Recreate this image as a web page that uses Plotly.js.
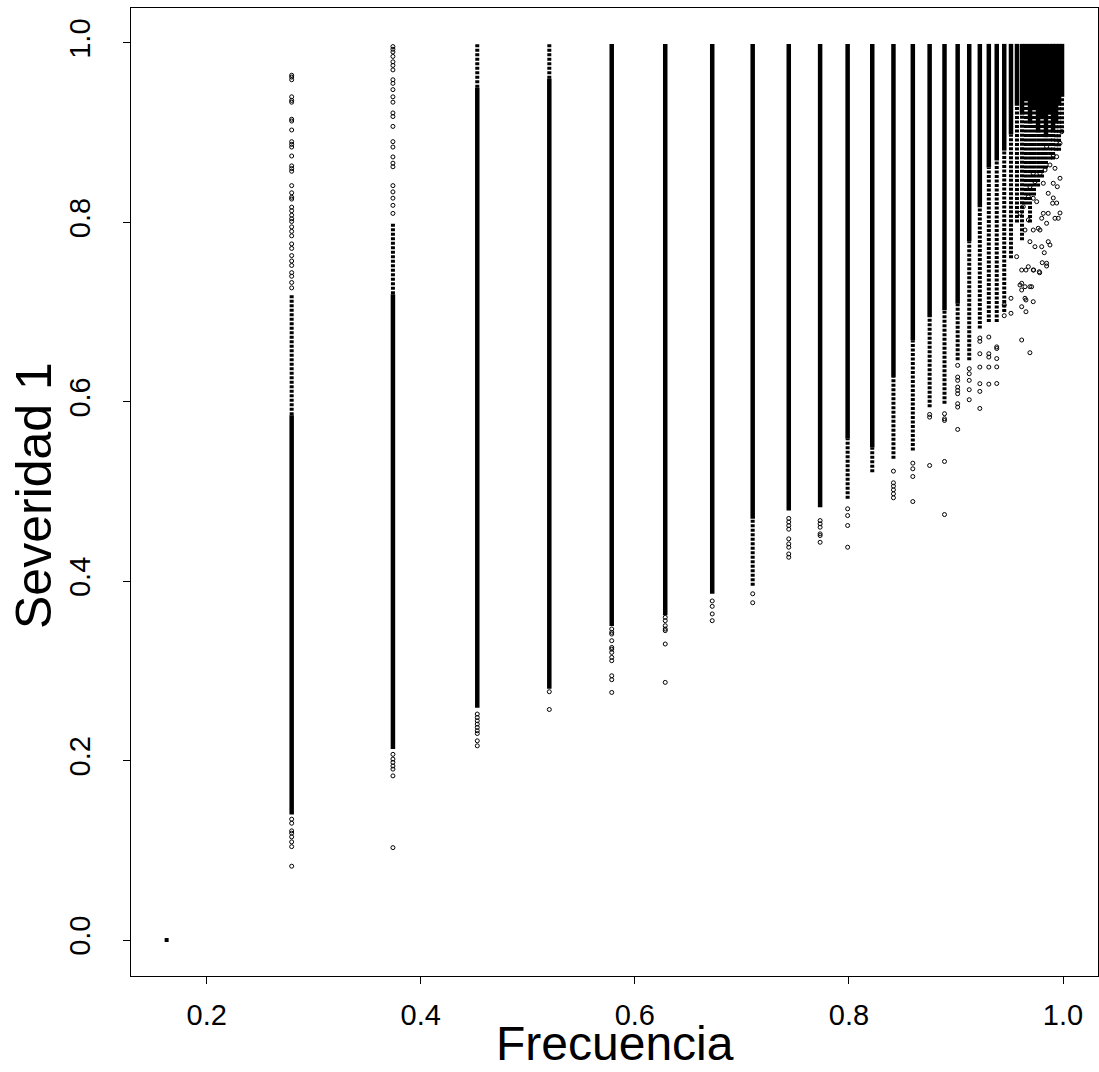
<!DOCTYPE html>
<html>
<head>
<meta charset="utf-8">
<script src="https://cdn.plot.ly/plotly-3.0.1.min.js"></script>
<style>html,body{margin:0;padding:0;background:#fff;}</style>
</head>
<body>
<div id="chart" style="width:1099px;height:1072px;"></div>
<script>
// ---- Data ----
// x positions of the vertical columns (Frecuencia)
const colX = [0.2794,0.3740,0.4528,0.5201,0.5784,0.6284,0.6723,0.7101,0.7438,0.7731,0.7988,0.8218,0.8416,0.8597,0.8754,0.8893,0.9016,0.9124,0.9223,0.9307,0.9381,0.9451,0.9514,
              0.9570,0.9617,0.9654,0.9692,0.9729,0.9767,0.9804,0.9841,0.9879,0.9907,0.9935,0.9963,0.9991];
// solid (densely packed) part of each column
const denseLo = [0.140,0.213,0.259,0.280,0.350,0.362,0.386,0.4695,0.4788,0.4825,0.5588,0.5494,0.6276,0.6685,0.6945,0.702,0.7094,0.779,0.817,0.861,0.869,0.880,0.898,
                 0.930,0.920,0.935,0.910,0.925,0.900,0.915,0.895,0.920,0.900,0.910,0.930,0.940];
const denseHi = [0.585,0.720,0.950,0.960,0.999,0.999,0.999,0.999,0.999,0.999,0.999,0.999,0.999,0.999,0.999,0.999,0.999,0.999,0.999,0.999,0.999,0.999,0.999,
                 0.999,0.999,0.999,0.999,0.999,0.999,0.999,0.999,0.999,0.999,0.999,0.999,0.999];
// loosely packed (dotted-looking) part of each column
const semiLo = [0.585,0.720,0.950,0.960,null,null,null,0.395,null,null,0.4918,0.5215,0.5365,0.5458,0.594,0.5979,0.6462,0.6462,0.6816,0.689,0.689,0.700,0.760,
                0.800,0.780,0.820,0.800,0.830,0.840,0.850,0.860,0.870,0.870,0.880,0.880,0.900];
const semiHi = [0.720,0.800,0.999,0.999,null,null,null,0.4695,null,null,0.5588,0.5494,0.6276,0.6685,0.6945,0.702,0.7094,0.779,0.817,0.861,0.869,0.880,0.898,
                0.930,0.920,0.935,0.910,0.925,0.900,0.915,0.895,0.920,0.900,0.910,0.930,0.940];
// isolated points of each column (Severidad 1 values)
const extraY = [
  [0.964,0.962,0.959,0.940,0.936,0.934,0.915,0.913,0.903,0.890,0.887,0.884,0.874,0.863,0.860,0.857,0.841,0.833,0.828,0.826,0.817,0.813,0.808,0.804,0.801,0.795,0.790,0.785,0.776,0.771,0.763,0.757,0.752,0.744,0.740,0.733,0.727,
   0.1347,0.1302,0.1217,0.1191,0.1150,0.1094,0.1041,0.0823],
  [0.996,0.993,0.990,0.985,0.979,0.975,0.970,0.959,0.955,0.948,0.940,0.934,0.922,0.918,0.907,0.890,0.884,0.873,0.866,0.862,0.841,0.834,0.827,0.819,0.810,
   0.207,0.2017,0.198,0.194,0.1905,0.183,0.103],
  [0.2519,0.2481,0.2444,0.2407,0.2370,0.2333,0.2302,0.2221,0.2165],
  [0.2768,0.257],
  [0.3467,0.3430,0.3411,0.3337,0.3262,0.3243,0.3206,0.3151,0.3114,0.2946,0.2902,0.2760],
  [0.3597,0.3560,0.3504,0.3467,0.3449,0.3300,0.2872],
  [0.378,0.372,0.3635,0.356],
  [0.386,0.376],
  [0.470,0.466,0.462,0.458,0.4472,0.4416,0.4379,0.4304,0.4267],
  [0.4676,0.4640,0.4602,0.4528,0.4509,0.4434],
  [0.4807,0.4732,0.4621,0.4379],
  [],
  [0.5227,0.5097,0.5059,0.5019,0.4974,0.4930],
  [0.5316,0.5253,0.5167,0.4888],
  [0.5859,0.5829,0.529],
  [0.5867,0.5811,0.5792,0.5335,0.4743],
  [0.6406,0.6276,0.6239,0.6164,0.6127,0.6090,0.5979,0.5941,0.5692],
  [0.6369,0.6313,0.6239,0.6135,0.6023],
  [0.6711,0.6674,0.6536,0.6387,0.6202,0.6116,0.5926],
  [0.6722,0.6536,0.6499,0.6387,0.6197],
  [0.6612,0.6594,0.6482,0.6389,0.6204],
  [0.708,0.696],
  [0.7154,0.6987],
  [],[],[],[],[],[],[],[],[],[],[],[],[]
];
// scattered points of the cloud near Frecuencia = 1
const cloudX = [0.9614,0.9654,0.9722,0.9614,0.9691,0.9567,0.9614,0.9614,0.9654,0.9691,0.9654,0.9614,0.9726,0.9782,0.9806,0.9847,0.9825,
  0.9862,0.9878,0.9801,0.9785,0.9738,0.9691,0.9847,0.9778,0.9722,0.9676,0.9598,0.9645,0.9707,0.9645,
  0.9972,0.9941,0.9909,0.9903,0.9862,0.9956,0.9925,0.9816,0.9847,0.9801,0.9754,0.9722,0.9769,0.9722,0.9676,0.9629,0.9598,0.9645,
  0.9988,0.9972,0.9909,0.9941,0.9847,0.9925,0.9972,0.9878,0.9832,0.9785,0.9816,0.9909,0.9947,0.9738,0.9722,0.9691,0.9862,0.9676];
const cloudY = [0.7060,0.7004,0.7116,0.6689,0.6547,0.7618,0.7321,0.7246,0.7135,0.7283,0.7469,0.7469,0.7469,0.7439,0.7551,0.7514,0.7662,
  0.7785,0.7748,0.7729,0.7915,0.7729,0.7785,0.7544,0.7450,0.7469,0.7506,0.7302,0.7283,0.7283,0.7154,
  0.8105,0.8216,0.8272,0.8213,0.8101,0.8046,0.8046,0.8101,0.7990,0.8046,0.8231,0.8269,0.7934,0.7915,0.8027,0.8175,0.8101,0.7915,
  0.9011,0.8882,0.8751,0.8732,0.8844,0.8603,0.8492,0.8640,0.8584,0.8547,0.8436,0.8436,0.8398,0.8453,0.8547,0.8398,0.8324,0.8286];
// the stack of points at the origin column
const zeroX = [0.1626];
const zeroY = [0.0];
const xTicks = [0.2,0.4,0.6,0.8,1.0];
const yTicks = [0.0,0.2,0.4,0.6,0.8,1.0];
const xTitle = 'Frecuencia';
const yTitle = 'Severidad 1';

// ---- Build traces ----
const dX = [], dY = [], sX = [], sY = [], pX = [], pY = [];
colX.forEach((x, i) => {
  dX.push(x, x, null); dY.push(denseLo[i], denseHi[i], null);
  if (semiLo[i] !== null) { sX.push(x, x, null); sY.push(semiLo[i], semiHi[i], null); }
  extraY[i].forEach(v => { pX.push(x); pY.push(v); });
});
cloudX.forEach((x, i) => { pX.push(x); pY.push(cloudY[i]); });

const traces = [
  {type:'scatter', mode:'lines', x:dX, y:dY, line:{color:'black', width:4.5}, hoverinfo:'skip'},
  {type:'scatter', mode:'lines', x:sX, y:sY, line:{color:'black', width:4, dash:'3px,1.5px'}, hoverinfo:'skip'},
  {type:'scatter', mode:'markers', x:pX, y:pY, marker:{symbol:'circle-open', size:4, color:'black', line:{width:1, color:'black'}}},
  {type:'scatter', mode:'markers', x:zeroX, y:zeroY, marker:{symbol:'square', size:4, color:'black'}}
];

const font = '"Liberation Sans", Arial, Helvetica, sans-serif';
const layout = {
  width:1099, height:1072,
  margin:{l:131, r:1, t:8, b:96, pad:0},
  paper_bgcolor:'white', plot_bgcolor:'white',
  showlegend:false,
  font:{family:font, color:'black'},
  xaxis:{
    range:[0.1293,1.0327], tickvals:xTicks, tickformat:'.1f',
    ticks:'outside', ticklen:7, tickwidth:1, tickcolor:'black',
    showline:true, mirror:true, linecolor:'black', linewidth:1,
    showgrid:false, zeroline:false, ticklabelstandoff:6,
    tickfont:{size:29, family:font, color:'black'},
    title:{text:''}
  },
  yaxis:{
    range:[-0.0401,1.039], tickvals:yTicks, tickformat:'.1f', tickangle:-90,
    ticks:'outside', ticklen:7, tickwidth:1, tickcolor:'black',
    showline:true, mirror:true, linecolor:'black', linewidth:1,
    showgrid:false, zeroline:false, ticklabelstandoff:21,
    tickfont:{size:29, family:font, color:'black'},
    title:{text:''}
  },
  annotations:[
    {text:xTitle, xref:'paper', yref:'paper', x:0.5, y:-0.0700, xanchor:'center', yanchor:'middle',
     showarrow:false, font:{size:48, family:font, color:'black'}},
    {text:yTitle, xref:'paper', yref:'paper', x:-0.1003, y:0.4959, xanchor:'center', yanchor:'middle', textangle:-90,
     showarrow:false, font:{size:50, family:font, color:'black'}}
  ]
};
Plotly.newPlot('chart', traces, layout, {displayModeBar:false, staticPlot:true});
</script>
</body>
</html>
